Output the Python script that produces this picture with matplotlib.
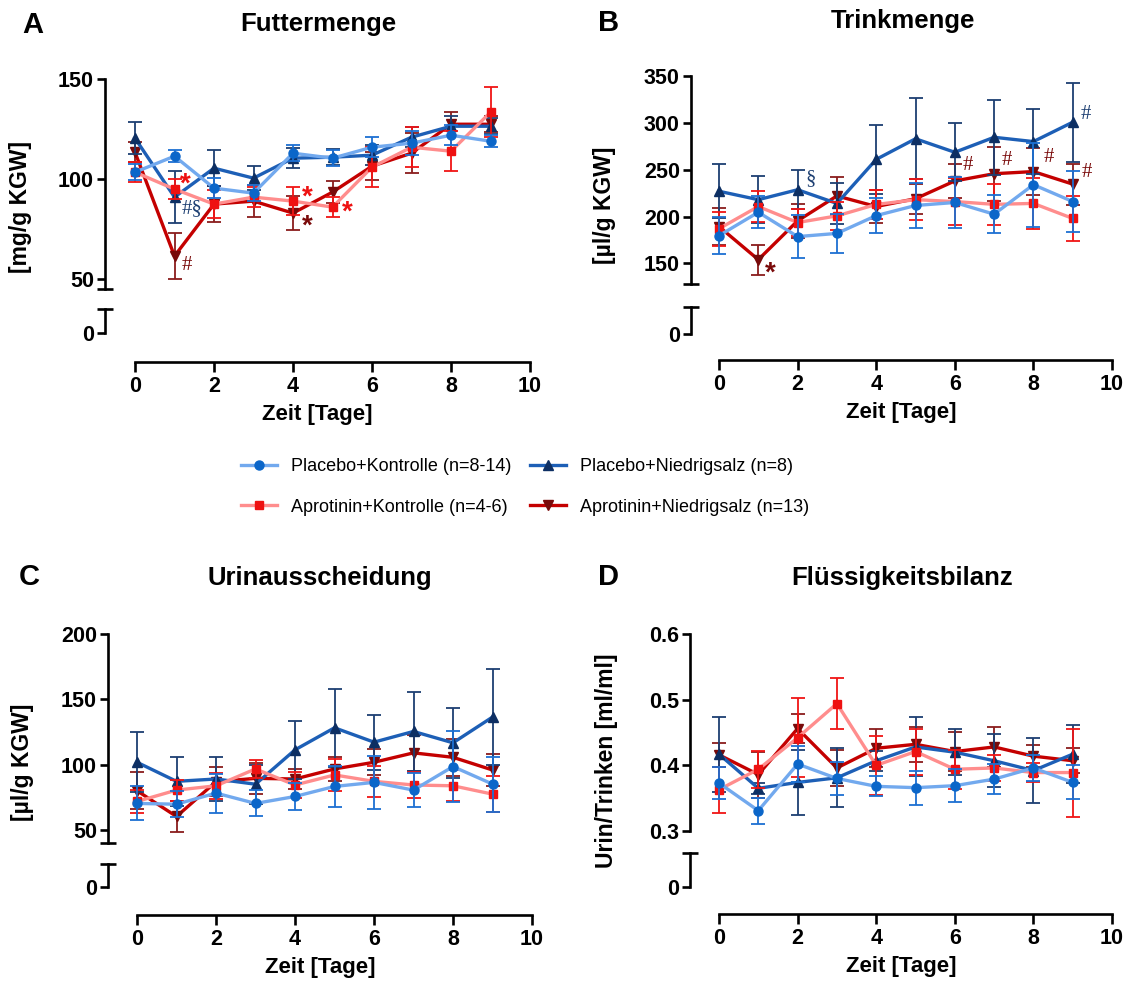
"""
Futter-, Trink-, Urinmenge und Flüssigkeitsbilanz über 10 Tage (4 Gruppen)
"""
import numpy as np
import matplotlib.pyplot as plt
from matplotlib.lines import Line2D

plt.rcParams['font.family'] = ['Liberation Sans', 'DejaVu Sans']

W, H = 1129, 983
days = np.arange(10)

groups = ['Placebo+Kontrolle (n=8-14)', 'Placebo+Niedrigsalz (n=8)',
          'Aprotinin+Kontrolle (n=4-6)', 'Aprotinin+Niedrigsalz (n=13)']

# A: Futtermenge [mg/g KGW]
food_pk = [103.5, 111.5, 95.5, 93, 113, 110.5, 116, 118, 122, 119]
food_pk_err = [4, 3, 5, 4, 4, 4, 5, 6, 5, 3]
food_pn = [120.5, 91, 105.5, 100.5, 110.5, 111, 112, 121, 126.5, 126.5]
food_pn_err = [8, 13, 9, 6, 5, 4, 5, 5, 5, 4]
food_ak = [103.5, 95, 87.5, 91, 89, 86, 106, 116, 114, 133.5]
food_ak_err = [5, 5, 7, 5, 7, 5, 10, 10, 10, 12.5]
food_an = [113.5, 61.5, 87.5, 89, 83, 93.5, 106.5, 113, 127.5, 127.5]
food_an_err = [5, 11.5, 9, 8, 8.5, 5.5, 7, 10, 6, 4]

# B: Trinkmenge [µl/g KGW]
drink_pk = [179.6, 204.6, 178.6, 182, 201, 211.8, 215, 202.5, 234, 216]
drink_pk_err = [20, 17, 23, 21, 19, 24, 27, 20, 45, 33]
drink_pn = [227, 218, 228.6, 214, 261, 283, 268.6, 284.6, 280, 300.7]
drink_pn_err = [29, 25, 21, 22, 37, 43, 31, 40, 35, 42]
drink_ak = [187, 210.7, 193.6, 200.7, 212.9, 218, 216, 213, 214, 198]
drink_ak_err = [18, 17, 14, 15, 15, 22, 25, 22, 27, 24]
drink_an = [189.3, 154, 195.4, 222, 210.7, 219, 238, 245.7, 248, 234.6]
drink_an_err = [20, 16, 18, 20, 18, 16, 18, 29, 25, 22]

# C: Urinausscheidung [µl/g KGW]
urine_pk = [70.3, 69.7, 78.2, 70.3, 75.6, 83.3, 86.4, 80.5, 98.5, 85.1]
urine_pk_err = [13, 10, 15, 10, 10, 15.6, 20, 13, 27, 21]
urine_pn = [101.8, 87.2, 89, 85, 111.3, 128.2, 117.2, 125.4, 116.7, 136.4]
urine_pn_err = [23, 19, 16.6, 15, 22, 30, 21, 30, 27, 36.6]
urine_ak = [71.8, 80.5, 83.8, 96.7, 84.4, 92.1, 87.2, 84.4, 83.8, 77.4]
urine_ak_err = [9, 8, 10, 7, 10, 12, 12, 10, 12, 14]
urine_an = [80, 60.3, 86.9, 89.5, 89, 96.7, 101.8, 109, 105.6, 95.9]
urine_an_err = [14, 11.7, 11, 12, 8, 9, 10, 14, 14, 12]

# D: Flüssigkeitsbilanz [ml/ml]
ratio_pk = [0.373, 0.331, 0.402, 0.380, 0.368, 0.366, 0.369, 0.379, 0.396, 0.374]
ratio_pk_err = [0.025, 0.02, 0.028, 0.025, 0.015, 0.026, 0.025, 0.023, 0.02, 0.026]
ratio_pn = [0.417, 0.365, 0.374, 0.381, 0.407, 0.428, 0.420, 0.407, 0.392, 0.417]
ratio_pn_err = [0.057, 0.008, 0.049, 0.045, 0.015, 0.045, 0.035, 0.04, 0.05, 0.044]
ratio_ak = [0.363, 0.394, 0.442, 0.494, 0.400, 0.421, 0.394, 0.396, 0.389, 0.389]
ratio_ak_err = [0.035, 0.028, 0.06, 0.039, 0.045, 0.035, 0.03, 0.02, 0.015, 0.067]
ratio_an = [0.416, 0.386, 0.456, 0.396, 0.426, 0.432, 0.421, 0.428, 0.414, 0.407]
ratio_an_err = [0.018, 0.035, 0.022, 0.027, 0.029, 0.027, 0.03, 0.03, 0.017, 0.019]

# Stil je Gruppe: Linienfarbe, Markerfarbe, Fehlerbalkenfarbe, Marker, Größe
styles = [
    dict(lc='#72a9ee', mc='#0b66c9', ec='#1d70d2', marker='o', ms=6.5, z=5),
    dict(lc='#1d5fb6', mc='#0d2f63', ec='#1d3f72', marker='^', ms=7.5, z=3),
    dict(lc='#ff8d8d', mc='#ee1111', ec='#f01515', marker='s', ms=6, z=4),
    dict(lc='#c40000', mc='#780a0a', ec='#8a1c1c', marker='v', ms=7.5, z=2),
]

RED = '#ee1111'
DRED = '#7a0a0a'
NAVY = '#1d3f72'

SPINE_W = 1.9
TICK_FS = 15.5


def px_axes(x0, x1, ytop, ybot):
    return fig.add_axes([x0 / W, 1 - ybot / H, (x1 - x0) / W, (ybot - ytop) / H])


def panel(letter, title, ylabel, series, geo, yticks, ylabels, notes):
    scale = (geo['x10'] - geo['x0']) / 10.0
    xleft = -(geo['x0'] - geo['yx']) / scale

    # oberes Segment (Daten)
    ax = px_axes(geo['yx'], geo['x10'], geo['ytop'], geo['ybot'])
    ax.set_xlim(xleft, 10)
    ax.set_ylim(*geo['ylim'])
    for s in ['top', 'right', 'bottom']:
        ax.spines[s].set_visible(False)
    ax.spines['left'].set_linewidth(SPINE_W)
    ax.set_xticks([])
    ax.set_yticks(yticks)
    ax.set_yticklabels(ylabels, fontsize=TICK_FS, fontweight='bold')
    if geo['ylim'][0] not in yticks:
        ax.set_yticks([geo['ylim'][0]], minor=True)
    ax.tick_params(axis='y', which='major', length=6, width=SPINE_W, pad=2)
    ax.tick_params(axis='y', which='minor', direction='inout', length=12, width=SPINE_W)
    ax.patch.set_visible(False)

    lines = []
    for (mean, err), st in zip(series, styles):
        ax.errorbar(days, mean, yerr=err, fmt='none', ecolor=st['ec'], elinewidth=1.3,
                    capsize=5, capthick=1.3, zorder=st['z'], clip_on=False)
        ln, = ax.plot(days, mean, color=st['lc'], lw=2.4, marker=st['marker'],
                      ms=st['ms'], mfc=st['mc'], mec=st['mc'], zorder=st['z'] + 0.5,
                      clip_on=False)
        lines.append(ln)

    for day, val, txt, col, dx, dy, kind in notes:
        if kind == 'star':
            ax.annotate(txt, xy=(day, val), xytext=(dx, dy), textcoords='offset pixels',
                        ha='center', va='center', color=col, fontsize=20,
                        fontweight='bold', annotation_clip=False, zorder=10)
        else:
            ax.annotate(txt, xy=(day, val), xytext=(dx, dy), textcoords='offset pixels',
                        ha='center', va='center', color=col, fontsize=15,
                        family=['Liberation Serif', 'DejaVu Serif'], annotation_clip=False,
                        zorder=10)

    # unteres Segment mit 0 und x-Achse
    unit = geo['lzero'] - geo['ltop']
    lo = px_axes(geo['yx'], geo['x10'], geo['ltop'], geo['xax'])
    lo.set_xlim(xleft, 10)
    lo.set_ylim(-(geo['xax'] - geo['lzero']) / unit, 1)
    lo.patch.set_visible(False)
    for s in ['top', 'right']:
        lo.spines[s].set_visible(False)
    lo.spines['left'].set_bounds(0, 1)
    lo.spines['bottom'].set_bounds(0, 10)
    lo.spines['left'].set_linewidth(SPINE_W)
    lo.spines['bottom'].set_linewidth(SPINE_W)
    lo.set_yticks([0])
    lo.set_yticklabels(['0'], fontsize=TICK_FS, fontweight='bold')
    lo.set_yticks([1], minor=True)
    lo.tick_params(axis='y', which='major', length=6, width=SPINE_W, pad=2)
    lo.tick_params(axis='y', which='minor', direction='inout', length=12, width=SPINE_W)
    lo.set_xticks(np.arange(0, 11, 2))
    lo.set_xticklabels([str(v) for v in range(0, 11, 2)], fontsize=TICK_FS, fontweight='bold')
    lo.tick_params(axis='x', length=7, width=SPINE_W, pad=3)
    lo.set_xlabel('Zeit [Tage]', fontsize=16, fontweight='bold', labelpad=5)

    fig.text(geo['letter'][0] / W, 1 - geo['letter'][1] / H, letter, fontsize=21,
             fontweight='bold', ha='center', va='center')
    fig.text(geo['title'][0] / W, 1 - geo['title'][1] / H, title, fontsize=18.5,
             fontweight='bold', ha='center', va='center')
    fig.text(geo['ylab'][0] / W, 1 - geo['ylab'][1] / H, ylabel, fontsize=16.5,
             fontweight='bold', ha='center', va='center', rotation=90)
    return lines


fig = plt.figure(figsize=(W / 100, H / 100), dpi=100)

geo_a = dict(yx=105, x0=135, x10=530, ytop=79.3, ybot=289, ltop=309.3, lzero=333.3,
             xax=362, ylim=(45, 150), letter=(33, 25), title=(318, 24), ylab=(21, 207))
geo_b = dict(yx=691, x0=719, x10=1112, ytop=76, ybot=284, ltop=306.7, lzero=334,
             xax=360, ylim=(128, 350), letter=(609, 23), title=(903, 21), ylab=(605, 205))
geo_c = dict(yx=108, x0=137, x10=532, ytop=634, ybot=843, ltop=864, lzero=887,
             xax=915, ylim=(40, 200), letter=(29, 577), title=(320, 578), ylab=(23, 762))
geo_d = dict(yx=690, x0=719, x10=1112, ytop=634, ybot=831, ltop=853, lzero=887,
             xax=914, ylim=(0.3, 0.6), letter=(609, 577), title=(902, 578), ylab=(606, 761))

notes_a = [
    (1, food_ak[1], '*', RED, 11, 5, 'star'),
    (1, food_pn[1], '#§', NAVY, 17, -11, 'sym'),
    (1, food_an[1], '#', DRED, 12, -9, 'sym'),
    (4, food_ak[4], '*', RED, 14, 4, 'star'),
    (4, food_an[4], '*', DRED, 14, -14, 'star'),
    (5, food_ak[5], '*', RED, 15, -6, 'star'),
]
notes_b = [
    (2, drink_pn[2], '§', NAVY, 13, 11, 'sym'),
    (1, drink_an[1], '*', DRED, 12, -14, 'star'),
    (6, drink_an[6], '#', DRED, 13, 15, 'sym'),
    (7, drink_an[7], '#', DRED, 13, 13, 'sym'),
    (8, drink_an[8], '#', DRED, 15, 14, 'sym'),
    (9, drink_an[9], '#', DRED, 14, 12, 'sym'),
    (9, drink_pn[9], '#', NAVY, 13, 8, 'sym'),
]

lines = panel('A', 'Futtermenge', '[mg/g KGW]',
              [(food_pk, food_pk_err), (food_pn, food_pn_err),
               (food_ak, food_ak_err), (food_an, food_an_err)],
              geo_a, [50, 100, 150], ['50', '100', '150'], notes_a)
panel('B', 'Trinkmenge', '[µl/g KGW]',
      [(drink_pk, drink_pk_err), (drink_pn, drink_pn_err),
       (drink_ak, drink_ak_err), (drink_an, drink_an_err)],
      geo_b, [150, 200, 250, 300, 350], ['150', '200', '250', '300', '350'], notes_b)
panel('C', 'Urinausscheidung', '[µl/g KGW]',
      [(urine_pk, urine_pk_err), (urine_pn, urine_pn_err),
       (urine_ak, urine_ak_err), (urine_an, urine_an_err)],
      geo_c, [50, 100, 150, 200], ['50', '100', '150', '200'], [])
panel('D', 'Flüssigkeitsbilanz', 'Urin/Trinken [ml/ml]',
      [(ratio_pk, ratio_pk_err), (ratio_pn, ratio_pn_err),
       (ratio_ak, ratio_ak_err), (ratio_an, ratio_an_err)],
      geo_d, [0.3, 0.4, 0.5, 0.6], ['0.3', '0.4', '0.5', '0.6'], [])

# Legende: Reihenfolge so, dass die zwei Spalten wie im Original gefüllt werden
handles = [Line2D([], [], color=st['lc'], lw=2.4, marker=st['marker'], ms=st['ms'],
                  mfc=st['mc'], mec=st['mc']) for st in styles]
order = [0, 2, 1, 3]
fig.legend([handles[i] for i in order], [groups[i] for i in order], ncol=2,
           loc='center', bbox_to_anchor=(525 / W, 1 - 487 / H), frameon=False,
           fontsize=13, handlelength=2.0, handletextpad=0.8, columnspacing=1.0,
           labelspacing=1.3)

fig.savefig('out.png', dpi=100)
